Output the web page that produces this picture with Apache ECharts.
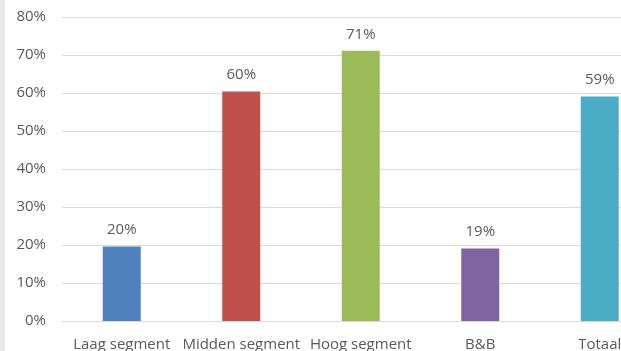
<!DOCTYPE html>
<html><head><meta charset="utf-8">
<script src="https://cdn.jsdelivr.net/npm/echarts@6/dist/echarts.min.js"></script>
<style>html,body{margin:0;padding:0;background:#fff}#c{width:621px;height:351px}</style>
</head><body><div id="c"></div>
<script>
var categories = ['Laag segment', 'Midden segment', 'Hoog segment', 'B&B', 'Totaal'];
var values = [19.6, 60.4, 71.1, 19.1, 59.1];
var labels = ['20%', '60%', '71%', '19%', '59%'];
var colors = ['#4F81BD', '#C0504D', '#9BBB59', '#8064A2', '#4BACC6'];
var yTicks = [0, 10, 20, 30, 40, 50, 60, 70, 80];

var chart = echarts.init(document.getElementById('c'), null, {renderer: 'canvas'});
chart.setOption({
  animation: false,
  graphic: [{type: 'rect', left: 0, top: 0, shape: {width: 5, height: 351}, style: {fill: '#e9e9e9'}, z: 10}],
  grid: {left: 62, width: 597.5, top: 17, height: 304, containLabel: false, outerBoundsMode: 'none'},
  xAxis: {
    type: 'category', data: categories,
    axisLine: {show: true, lineStyle: {color: '#d9d9d9'}},
    axisTick: {show: false},
    axisLabel: {color: '#595959', fontFamily: 'Open Sans', fontSize: 15, margin: 16, interval: 0, hideOverlap: false}
  },
  yAxis: {
    type: 'value', min: 0, max: 80, interval: 10,
    axisLine: {show: false}, axisTick: {show: false},
    splitLine: {lineStyle: {color: '#d9d9d9', width: 1}},
    axisLabel: {color: '#595959', fontFamily: 'Open Sans', fontSize: 15, margin: 16,
      formatter: function (v) { return yTicks.indexOf(v) >= 0 ? v + '%' : ''; }}
  },
  series: [{
    type: 'bar', barWidth: 38,
    data: values.map(function (v, i) { return {value: v, itemStyle: {color: colors[i]}}; }),
    label: {show: true, position: 'top', distance: 9, color: '#595959', fontFamily: 'Open Sans', fontSize: 15,
      formatter: function (p) { return labels[p.dataIndex]; }}
  }]
});
</script></body></html>
